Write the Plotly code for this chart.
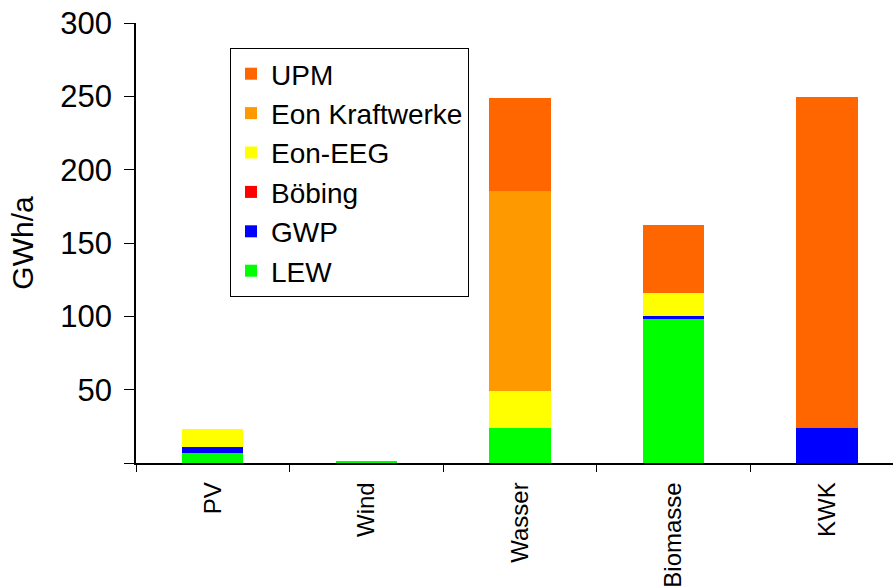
import plotly.graph_objects as go

categories = ["PV", "Wind", "Wasser", "Biomasse", "KWK"]
lew = [6.5, 1.0, 23.7, 98.2, 0]
gwp = [4.5, 0, 0, 2.0, 24.0]
boebing = [0, 0, 0, 0, 0]
eon_eeg = [12.2, 0, 25.2, 15.8, 0]
eon_kraftwerke = [0, 0, 136.5, 0, 0]
upm = [0, 0, 63.5, 46.3, 225.5]

y_ticks = [0, 50, 100, 150, 200, 250, 300]
y_ticktext = ["", "50", "100", "150", "200", "250", "300"]

series = [
    ("LEW", lew, "#00FF00"),
    ("GWP", gwp, "#0000FF"),
    ("Böbing", boebing, "#FF0000"),
    ("Eon-EEG", eon_eeg, "#FFFF00"),
    ("Eon Kraftwerke", eon_kraftwerke, "#FF9900"),
    ("UPM", upm, "#FF6600"),
]

fig = go.Figure()
for name, vals, col in series:
    fig.add_trace(go.Bar(x=categories, y=vals, name=name,
                         marker=dict(color=col, line=dict(width=0))))

FONT = "Liberation Sans, Arial, sans-serif"
fig.update_layout(
    width=893, height=587,
    barmode="stack", bargap=0.6,
    plot_bgcolor="white", paper_bgcolor="white",
    margin=dict(l=136, r=0, t=23, b=124, autoexpand=False),
    font=dict(family=FONT, color="black"),
    showlegend=True,
    legend=dict(
        x=(230 - 136) / 757, y=(463 - 48) / 440, xanchor="left", yanchor="top",
        bordercolor="black", borderwidth=1, bgcolor="white",
        font=dict(size=28, family=FONT, color="black"),
        traceorder="reversed", tracegroupgap=0,
    ),
    xaxis=dict(
        range=[-0.5, 4.43], showline=True, linecolor="black", linewidth=1.5,
        ticks="outside", tickson="boundaries", ticklen=7, tickcolor="black",
        tickangle=-90, tickfont=dict(size=24, family=FONT, color="black"),
        ticklabelstandoff=8, ticklabeloverflow="allow",
        showgrid=False, zeroline=False, automargin=False,
    ),
    yaxis=dict(
        range=[0, 300], tickvals=y_ticks, ticktext=y_ticktext,
        showline=True, linecolor="black", linewidth=1.5,
        ticks="outside", ticklen=10, tickcolor="black",
        tickfont=dict(size=31, family=FONT, color="black"),
        ticklabelstandoff=6, ticklabeloverflow="allow",
        title=dict(text="GWh/a", font=dict(size=30, family=FONT, color="black"), standoff=18),
        showgrid=False, zeroline=False, automargin=False,
    ),
)

fig.write_html("out.html", config={"displayModeBar": False},
               post_script="document.body.style.margin='0';")
